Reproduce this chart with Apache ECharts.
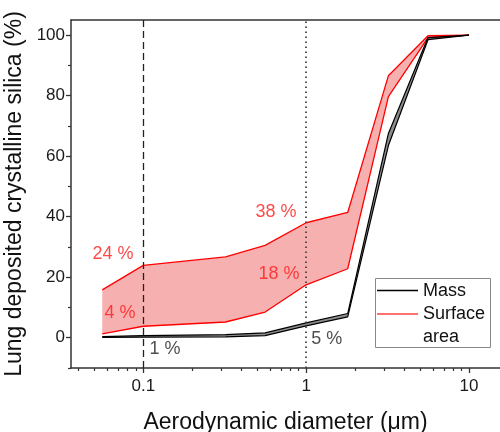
<!DOCTYPE html>
<html>
<head>
<meta charset="utf-8">
<script src="https://cdn.jsdelivr.net/npm/echarts@6/dist/echarts.min.js"></script>
<style>html,body{margin:0;padding:0;background:#fff}#c{width:500px;height:432px}</style>
</head>
<body>
<div id="c"></div>
<script>
const diameters = [0.056, 0.1, 0.32, 0.56, 1, 1.8, 3.2, 5.6, 10];
const massLow  = [0.1, 0.2, 0.3, 0.7, 3.9, 6.9, 63.5, 98.5, 100];
const massHigh = [0.4, 0.7, 1.0, 1.6, 4.9, 8.0, 67.5, 99.2, 100];
const surfLow  = [1.3, 3.8, 5.2, 8.5, 17.5, 22.8, 79.7, 99.2, 100];
const surfHigh = [15.8, 23.9, 26.7, 30.5, 38.0, 41.4, 86.6, 99.8, 100];

const xMajorTicks = [0.1, 1, 10];
const xMinorTicks = [0.04, 0.05, 0.06, 0.07, 0.08, 0.09, 0.2, 0.3, 0.4, 0.5, 0.6, 0.7, 0.8, 0.9, 2, 3, 4, 5, 6, 7, 8, 9];
const yMajorTicks = [0, 20, 40, 60, 80, 100];
const yMinorTicks = [-10, 10, 30, 50, 70, 90];

const refDashed = 0.1;
const refDotted = 1;

const redNotesText = ['24 %', '4 %', '38 %', '18 %'];
const redNotesX = [0.0651, 0.0719, 0.653, 0.682];
const redNotesY = [27.8, 8.2, 41.5, 21.0];
const darkNotesText = ['1 %', '5 %'];
const darkNotesX = [0.136, 1.338];
const darkNotesY = [-3.7, -0.4];

const FONT = 'Liberation Sans, Arial, sans-serif';

const redFill = 'rgb(246,176,176)';
const grayFill = 'rgb(140,140,140)';

function pairs(xs, ys) { return xs.map((x, i) => [x, ys[i]]); }

function bandSeries(low, high, fill) {
  return {
    type: 'custom', xAxisIndex: 0, yAxisIndex: 0, silent: true, z: 1,
    data: [[diameters[0], low[0]]],
    renderItem: function (params, api) {
      const pts = [];
      for (let i = 0; i < diameters.length; i++) pts.push(api.coord([diameters[i], high[i]]));
      for (let i = diameters.length - 1; i >= 0; i--) pts.push(api.coord([diameters[i], low[i]]));
      return { type: 'polygon', shape: { points: pts }, style: { fill: fill, stroke: null } };
    }
  };
}

function lineSeries(ys, color, w) {
  return {
    type: 'line', xAxisIndex: 0, yAxisIndex: 0, data: pairs(diameters, ys),
    symbol: 'none', lineStyle: { color: color, width: w }, silent: true, z: 3, animation: false
  };
}

function noteSeries(xs, ys, texts, color) {
  return {
    type: 'scatter', xAxisIndex: 0, yAxisIndex: 0, symbolSize: 0, silent: true, z: 5,
    data: xs.map((x, i) => [x, ys[i], texts[i]]),
    label: { show: true, position: 'inside', formatter: p => p.data[2], color: color,
             fontFamily: FONT, fontSize: 18 }
  };
}

const xMin = 0.036, xMax = 15.5;
const gridPos = { left: 71, right: 0, top: 20, bottom: 64, outerBoundsMode: 'none', containLabel: false };

const chart = echarts.init(document.getElementById('c'), null, { renderer: 'canvas' });
chart.setOption({
  animation: false,
  backgroundColor: '#fff',
  grid: [Object.assign({}, gridPos), Object.assign({}, gridPos)],
  xAxis: [
    {
      gridIndex: 0, type: 'log', min: xMin, max: xMax, position: 'bottom',
      name: 'Aerodynamic diameter (\u03bcm)', nameLocation: 'middle', nameGap: 43,
      nameTextStyle: { fontFamily: FONT, fontSize: 23, color: '#111' },
      axisLine: { show: true, onZero: false, lineStyle: { color: '#333', width: 1.5 } },
      axisTick: { show: true, length: 5, customValues: xMajorTicks, lineStyle: { color: '#333', width: 1.3 } },
      axisLabel: { show: true, customValues: xMajorTicks, margin: 10, fontFamily: FONT, fontSize: 17, color: '#1a1a1a',
                   formatter: v => String(v) },
      splitLine: { show: false }, minorTick: { show: false }
    },
    {
      gridIndex: 0, type: 'log', min: xMin, max: xMax, position: 'top',
      axisLine: { show: true, onZero: false, lineStyle: { color: '#333', width: 1.5 } },
      axisTick: { show: false }, axisLabel: { show: false }, splitLine: { show: false }
    },
    {
      gridIndex: 1, type: 'log', min: xMin, max: xMax, position: 'bottom',
      axisLine: { show: false, onZero: false },
      axisTick: { show: true, length: 3, customValues: xMinorTicks, lineStyle: { color: '#333', width: 1.2 } },
      axisLabel: { show: false }, splitLine: { show: false }
    }
  ],
  yAxis: [
    {
      gridIndex: 0, type: 'value', min: -10, max: 105, position: 'left',
      name: 'Lung deposited crystalline silica (%)', nameLocation: 'middle', nameGap: 40,
      nameTextStyle: { fontFamily: FONT, fontSize: 23, color: '#111' },
      axisLine: { show: true, onZero: false, lineStyle: { color: '#333', width: 1.5 } },
      axisTick: { show: true, length: 5, customValues: yMajorTicks, lineStyle: { color: '#333', width: 1.3 } },
      axisLabel: { show: true, customValues: yMajorTicks, margin: 6, fontFamily: FONT, fontSize: 17, color: '#1a1a1a' },
      splitLine: { show: false }
    },
    {
      gridIndex: 1, type: 'value', min: -10, max: 105, position: 'left',
      axisLine: { show: false, onZero: false },
      axisTick: { show: true, length: 3, customValues: yMinorTicks, lineStyle: { color: '#333', width: 1.2 } },
      axisLabel: { show: false }, splitLine: { show: false }
    }
  ],
  series: [
    bandSeries(surfLow, surfHigh, redFill),
    bandSeries(massLow, massHigh, grayFill),
    {
      type: 'line', xAxisIndex: 0, yAxisIndex: 0, data: [], silent: true, z: 2,
      markLine: {
        silent: true, symbol: 'none', label: { show: false }, animation: false,
        data: [
          { xAxis: refDashed, lineStyle: { color: '#222', width: 1.3, type: [7, 4] } },
          { xAxis: refDotted, lineStyle: { color: '#444', width: 1.8, type: [1.6, 3.4] } }
        ]
      }
    },
    lineSeries(surfLow, '#ff0000', 1.3),
    lineSeries(surfHigh, '#ff0000', 1.3),
    lineSeries(massLow, '#000', 1.2),
    lineSeries(massHigh, '#000', 1.2),
    noteSeries(redNotesX, redNotesY, redNotesText, '#ff1a1a'),
    noteSeries(darkNotesX, darkNotesY, darkNotesText, '#222')
  ],
  graphic: [
    { type: 'rect', shape: { x: 375.5, y: 278.5, width: 115, height: 69 },
      style: { fill: '#fff', stroke: '#888', lineWidth: 1 }, z: 10 },
    { type: 'line', shape: { x1: 377, y1: 290.5, x2: 418, y2: 290.5 }, style: { stroke: '#000', lineWidth: 1.5 }, z: 11 },
    { type: 'line', shape: { x1: 377, y1: 314, x2: 418, y2: 314 }, style: { stroke: '#ff4040', lineWidth: 1.5 }, z: 11 },
    { type: 'text', x: 423, y: 291, style: { text: 'Mass', font: '18px ' + FONT, fill: '#111', verticalAlign: 'middle' }, z: 11 },
    { type: 'text', x: 423, y: 314.5, style: { text: 'Surface', font: '18px ' + FONT, fill: '#111', verticalAlign: 'middle' }, z: 11 },
    { type: 'text', x: 423, y: 337, style: { text: 'area', font: '18px ' + FONT, fill: '#111', verticalAlign: 'middle' }, z: 11 }
  ]
});
</script>
</body>
</html>
